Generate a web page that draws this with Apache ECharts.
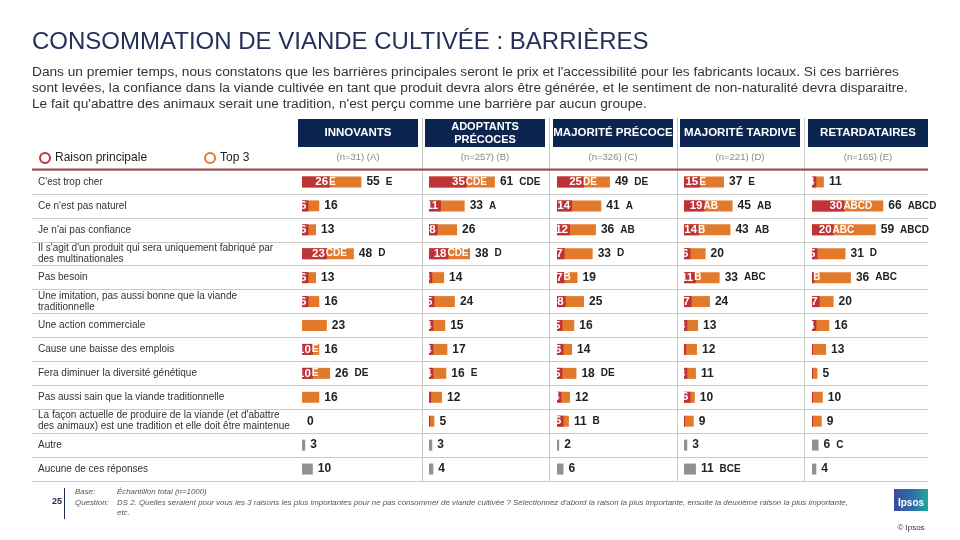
<!DOCTYPE html>
<html><head><meta charset="utf-8">
<script src="https://cdn.jsdelivr.net/npm/echarts@6/dist/echarts.min.js"></script>
<style>html,body{margin:0;padding:0;background:#fff}#c{width:960px;height:540px}</style>
</head><body><div id="c"></div>
<script>
var categories = [
  "C'est trop cher",
  "Ce n'est pas naturel",
  "Je n'ai pas confiance",
  "Il s'agit d'un produit qui sera uniquement fabriqué par\ndes multinationales",
  "Pas besoin",
  "Une imitation, pas aussi bonne que la viande\ntraditionnelle",
  "Une action commerciale",
  "Cause une baisse des emplois",
  "Fera diminuer la diversité génétique",
  "Pas aussi sain que la viande traditionnelle",
  "La façon actuelle de produire de la viande (et d'abattre\ndes animaux) est une tradition et elle doit être maintenue",
  "Autre",
  "Aucune de ces réponses"
];
var groups = ["INNOVANTS", "ADOPTANTS\nPRÉCOCES", "MAJORITÉ PRÉCOCE", "MAJORITÉ TARDIVE", "RETARDATAIRES"];
var bases = ["(n=31) (A)", "(n=257) (B)", "(n=326) (C)", "(n=221) (D)", "(n=165) (E)"];

var mainA = [26, 6, 6, 23, 6, 6, 0, 10, 10, 0, 0, null, null];
var mainSigA = ["E", "", "", "CDE", "", "", "", "E", "E", "", "", "", ""];
var top3A = [55, 16, 13, 48, 13, 16, 23, 16, 26, 16, 0, 3, 10];
var top3SigA = ["E", "", "", "D", "", "", "", "", "DE", "", "", "", ""];

var mainB = [35, 11, 8, 18, 3, 5, 4, 4, 4, 2, 1, null, null];
var mainSigB = ["CDE", "", "", "CDE", "", "", "", "", "", "", "", "", ""];
var top3B = [61, 33, 26, 38, 14, 24, 15, 17, 16, 12, 5, 3, 4];
var top3SigB = ["CDE", "A", "", "D", "", "", "", "", "E", "", "", "", ""];

var mainC = [25, 14, 12, 7, 7, 8, 5, 6, 5, 4, 6, null, null];
var mainSigC = ["DE", "", "", "", "B", "", "", "", "", "", "", "", ""];
var top3C = [49, 41, 36, 33, 19, 25, 16, 14, 18, 12, 11, 2, 6];
var top3SigC = ["DE", "A", "AB", "D", "", "", "", "", "DE", "", "B", "", ""];

var mainD = [15, 19, 14, 6, 11, 7, 3, 2, 3, 6, 1, null, null];
var mainSigD = ["E", "AB", "B", "", "B", "", "", "", "", "", "", "", ""];
var top3D = [37, 45, 43, 20, 33, 24, 13, 12, 11, 10, 9, 3, 11];
var top3SigD = ["E", "AB", "AB", "", "ABC", "", "", "", "", "", "", "", "BCE"];

var mainE = [4, 30, 20, 5, 2, 7, 4, 1, 1, 1, 1, null, null];
var mainSigE = ["", "ABCD", "ABC", "", "B", "", "", "", "", "", "", "", ""];
var top3E = [11, 66, 59, 31, 36, 20, 16, 13, 5, 10, 9, 6, 4];
var top3SigE = ["", "ABCD", "ABCD", "D", "ABC", "", "", "", "", "", "", "C", ""];

var mains = [mainA, mainB, mainC, mainD, mainE];
var mainSigs = [mainSigA, mainSigB, mainSigC, mainSigD, mainSigE];
var top3s = [top3A, top3B, top3C, top3D, top3E];
var top3Sigs = [top3SigA, top3SigB, top3SigC, top3SigD, top3SigE];

var FONT = "Liberation Sans, Arial, sans-serif";
var RED = "#BF3238", ORANGE = "#E27A2C", GRAY = "#8F9193", NAVY = "#0B2550";
var colLeft = [302, 429, 557, 684, 812];
var boxX = [298, 425, 553, 680, 808];
var boxW = 120;
var gridTop = 170, gridH = 311;

var grids = [{left: 32, top: gridTop, width: 896, height: gridH}];
var xAxes = [{gridIndex: 0, type: 'value', show: false, min: 0, max: 100}];
var yAxes = [{
  gridIndex: 0, type: 'category', data: categories, inverse: true,
  axisLine: {show: false}, axisTick: {show: false},
  splitLine: {show: true, lineStyle: {color: '#c9c9c9', width: 1}},
  axisLabel: {inside: true, margin: 6, color: '#333', fontSize: 10, fontFamily: FONT, lineHeight: 11}
}];
var series = [];

for (var i = 0; i < 5; i++) {
  grids.push({left: colLeft[i], top: gridTop, width: 108, height: gridH});
  xAxes.push({gridIndex: i + 1, type: 'value', show: false, min: 0, max: 100});
  yAxes.push({gridIndex: i + 1, type: 'category', data: categories, inverse: true, show: false});
  (function (ci) {
    var t3 = top3s[ci].map(function (v, k) {
      return {value: v, itemStyle: {color: k >= 11 ? GRAY : ORANGE}};
    });
    series.push({
      name: 'Top 3', type: 'bar', xAxisIndex: ci + 1, yAxisIndex: ci + 1,
      barWidth: 11, data: t3, z: 2, itemStyle: {color: ORANGE},
      label: {
        show: true, position: 'right', distance: 5,
        formatter: function (p) {
          var s = top3Sigs[ci][p.dataIndex];
          return '{n|' + p.value + '}' + (s ? '{s|' + s + '}' : '');
        },
        rich: {
          n: {fontSize: 12, fontWeight: 'bold', color: '#222', fontFamily: FONT},
          s: {fontSize: 10, fontWeight: 'bold', color: '#222', fontFamily: FONT, padding: [0, 0, 0, 6]}
        }
      }
    });
    var md = mains[ci].map(function (v, k) {
      var digits = v == null ? 1 : String(v).length;
      return {
        value: v,
        label: {show: !!v, distance: -(digits * 6.4 + 2)}
      };
    });
    series.push({
      name: 'Raison principale', type: 'bar', xAxisIndex: ci + 1, yAxisIndex: ci + 1,
      barWidth: 11, barGap: '-100%', data: md, z: 3, itemStyle: {color: RED},
      label: {
        show: true, position: 'right',
        formatter: function (p) {
          var s = mainSigs[ci][p.dataIndex];
          return '{n|' + p.value + '}' + (s ? '{s|' + s + '}' : '');
        },
        rich: {
          n: {fontSize: 11.5, fontWeight: 'bold', color: '#fff', fontFamily: FONT},
          s: {fontSize: 10, fontWeight: 'bold', color: '#fff', fontFamily: FONT, padding: [0, 0, 0, 1]}
        }
      }
    });
  })(i);
}

function txt(x, y, s, o) {
  o = o || {};
  return {
    type: 'text', z: 10, silent: true,
    style: {
      x: x, y: y, text: s, fill: o.fill || '#333',
      font: (o.style || 'normal') + ' ' + (o.weight || 'normal') + ' ' + (o.size || 12) + 'px ' + FONT,
      textAlign: o.align || 'left', align: o.align || 'left',
      textVerticalAlign: 'middle', verticalAlign: 'middle',
      lineHeight: o.lh || undefined
    }
  };
}

var graphics = [];
graphics.push(txt(32, 42, "CONSOMMATION DE VIANDE CULTIVÉE : BARRIÈRES", {size: 24, fill: '#22305A'}));
graphics.push(txt(32, 72, "Dans un premier temps, nous constatons que les barrières principales seront le prix et l'accessibilité pour les fabricants locaux. Si ces barrières", {size: 13.7, fill: '#333'}));
graphics.push(txt(32, 88, "sont levées, la confiance dans la viande cultivée en tant que produit devra alors être générée, et le sentiment de non-naturalité devra disparaitre.", {size: 13.7, fill: '#333'}));
graphics.push(txt(32, 104, "Le fait qu'abattre des animaux serait une tradition, n'est perçu comme une barrière par aucun groupe.", {size: 13.7, fill: '#333'}));

for (var j = 0; j < 5; j++) {
  graphics.push({type: 'rect', z: 5, silent: true, shape: {x: boxX[j], y: 119, width: boxW, height: 28}, style: {fill: NAVY}});
  graphics.push(txt(boxX[j] + boxW / 2, 133, groups[j], {size: j === 1 ? 11 : 11.5, weight: 'bold', fill: '#fff', align: 'center', lh: 13}));
  graphics.push(txt(boxX[j] + boxW / 2, 157, bases[j], {size: 9.5, fill: '#888', align: 'center'}));
}
[422, 549, 677, 804].forEach(function (x) {
  graphics.push({type: 'line', z: 1, silent: true, shape: {x1: x + 0.5, y1: 118, x2: x + 0.5, y2: 482}, style: {stroke: '#c9c9c9', lineWidth: 1}});
});
graphics.push({type: 'line', z: 6, silent: true, shape: {x1: 32, y1: 169.5, x2: 928, y2: 169.5}, style: {stroke: '#9A4848', lineWidth: 2}});

graphics.push(txt(52, 502, "25", {size: 9, weight: 'bold', fill: '#1A2A50'}));
graphics.push({type: 'line', silent: true, shape: {x1: 64.5, y1: 488, x2: 64.5, y2: 519}, style: {stroke: '#1A2A50', lineWidth: 1}});
graphics.push(txt(75, 492, "Base:", {size: 7.9, style: 'italic', fill: '#555'}));
graphics.push(txt(117, 492, "Échantillon total (n=1000)", {size: 7.9, style: 'italic', fill: '#555'}));
graphics.push(txt(75, 503, "Question:", {size: 7.9, style: 'italic', fill: '#555'}));
graphics.push(txt(117, 503, "DS 2. Quelles seraient pour vous les 3 raisons les plus importantes pour ne pas consommer de viande cultivée ? Sélectionnez d'abord la raison la plus importante, ensuite la deuxième raison la plus importante,", {size: 7.9, style: 'italic', fill: '#555'}));
graphics.push(txt(117, 513, "etc.", {size: 7.9, style: 'italic', fill: '#555'}));

graphics.push({type: 'rect', silent: true, shape: {x: 894, y: 489, width: 34, height: 22}, style: {fill: {type: 'linear', x: 0, y: 0, x2: 1, y2: 0, colorStops: [{offset: 0, color: '#3A4BA0'}, {offset: 0.55, color: '#2F6FA8'}, {offset: 1, color: '#1FA89A'}]}}});
graphics.push(txt(911, 503, "Ipsos", {size: 10, weight: 'bold', fill: '#fff', align: 'center'}));
graphics.push(txt(911, 528, "© Ipsos", {size: 8, fill: '#333', align: 'center'}));

var chart = echarts.init(document.getElementById('c'), null, {renderer: 'canvas'});
chart.setOption({
  animation: false,
  backgroundColor: '#fff',
  textStyle: {fontFamily: FONT},
  legend: {
    data: ['Raison principale', 'Top 3'], left: 34, top: 147, itemGap: 57,
    icon: 'emptyCircle', itemWidth: 10, itemHeight: 10,
    textStyle: {fontSize: 12, color: '#222', fontFamily: FONT}
  },
  grid: grids, xAxis: xAxes, yAxis: yAxes, series: series,
  graphic: graphics
});
</script></body></html>
